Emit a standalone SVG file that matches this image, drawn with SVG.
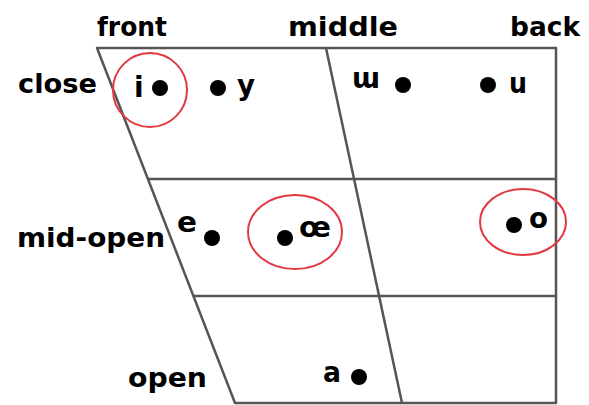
<svg xmlns="http://www.w3.org/2000/svg" width="589" height="405" viewBox="0 0 589 405">
<style>
.lbl{font-family:"DejaVu Sans","Liberation Sans",sans-serif;font-weight:bold;font-size:26px;fill:#000}
.sym{font-family:"DejaVu Sans","Liberation Sans",sans-serif;font-weight:bold;font-size:28px;fill:#000}
.grid{fill:none;stroke:#555;stroke-width:2.5;stroke-linejoin:round}
.ring{fill:none;stroke:#e23a42;stroke-width:2}
.dot{fill:#000}
</style>
<rect width="589" height="405" fill="#fff"/>
<g id="connectors">
<path class="grid" d="M97,48 L556,48 L556,403 L235,403 Z"/>
<path class="grid" d="M326,48 L402,403"/>
<path class="grid" d="M148,179 L556,179"/>
<path class="grid" d="M193,296 L556,296"/>
</g>
<g id="headers">
<text class="lbl" x="97" y="36" textLength="70" lengthAdjust="spacingAndGlyphs">front</text>
<text class="lbl" x="288" y="36" textLength="110" lengthAdjust="spacingAndGlyphs">middle</text>
<text class="lbl" x="510" y="36" textLength="70" lengthAdjust="spacingAndGlyphs">back</text>
<text class="lbl" x="18" y="93" textLength="79" lengthAdjust="spacingAndGlyphs">close</text>
<text class="lbl" x="17" y="247" textLength="148" lengthAdjust="spacingAndGlyphs">mid-open</text>
<text class="lbl" x="128" y="387" textLength="79" lengthAdjust="spacingAndGlyphs">open</text>
</g>
<g id="vowel-i">
<circle class="ring" cx="150" cy="90" r="37"/>
<text class="sym" x="134" y="97">i</text>
<circle class="dot" cx="160" cy="88" r="8"/>
</g>
<g id="vowel-y">
<circle class="dot" cx="218" cy="88" r="8"/>
<text class="sym" x="237" y="95" textLength="18" lengthAdjust="spacingAndGlyphs">y</text>
</g>
<g id="vowel-ɯ">
<text class="sym" x="352" y="88" textLength="28" lengthAdjust="spacingAndGlyphs">ɯ</text>
<circle class="dot" cx="403" cy="85" r="8"/>
</g>
<g id="vowel-u">
<circle class="dot" cx="488" cy="85" r="8"/>
<text class="sym" x="509" y="93" textLength="18" lengthAdjust="spacingAndGlyphs">u</text>
</g>
<g id="vowel-e">
<text class="sym" x="177" y="232" textLength="20" lengthAdjust="spacingAndGlyphs">e</text>
<circle class="dot" cx="212" cy="238" r="8"/>
</g>
<g id="vowel-œ">
<ellipse class="ring" cx="295" cy="232" rx="47" ry="37"/>
<circle class="dot" cx="285" cy="238" r="8"/>
<text class="sym" x="299" y="237" textLength="32" lengthAdjust="spacingAndGlyphs">œ</text>
</g>
<g id="vowel-o">
<ellipse class="ring" cx="523" cy="222" rx="43" ry="33"/>
<circle class="dot" cx="514" cy="225" r="8"/>
<text class="sym" x="529" y="228" textLength="19" lengthAdjust="spacingAndGlyphs">o</text>
</g>
<g id="vowel-a">
<text class="sym" x="323" y="382" textLength="18" lengthAdjust="spacingAndGlyphs">a</text>
<circle class="dot" cx="359" cy="377" r="8"/>
</g>
</svg>
